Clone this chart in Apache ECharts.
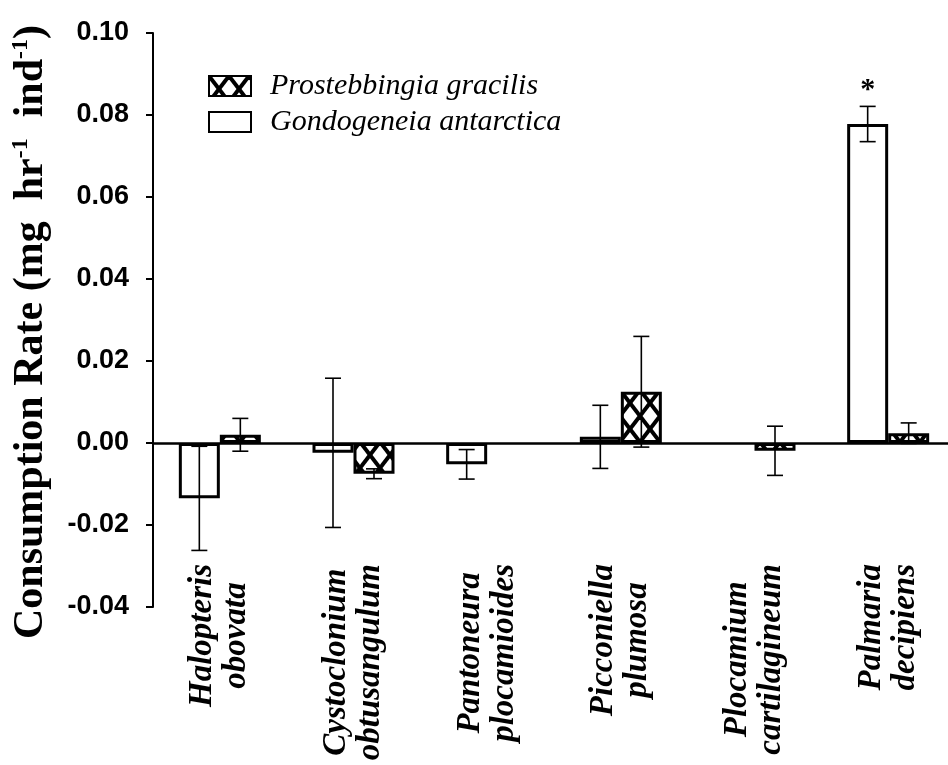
<!DOCTYPE html>
<html><head><meta charset="utf-8">
<script src="https://cdn.jsdelivr.net/npm/echarts@6/dist/echarts.min.js"></script>
<style>html,body{margin:0;padding:0;background:#fff}#chart{width:948px;height:765px}</style>
</head><body><div id="chart"></div>
<script>
// ---- data ----
const categories = ['Halopteris obovata', 'Cystoclonium obtusangulum', 'Pantoneura plocamioides', 'Picconiella plumosa', 'Plocamium cartilagineum', 'Palmaria decipiens'];
const seriesNames = ['Gondogeneia antarctica', 'Prostebbingia gracilis'];
const legendOrder = ['Prostebbingia gracilis', 'Gondogeneia antarctica'];
const gondoValues = [-0.0135, -0.0024, -0.0052, 0.0015, null, 0.0778];
const gondoErrors = [0.0127, 0.0182, 0.0036, 0.0077, null, 0.0043];
const gondoNotes = ['', '', '', '', '', '*'];
const prosValues = [0.0020, -0.0075, null, 0.0125, -0.0019, 0.0024];
const prosErrors = [0.0040, 0.0012, null, 0.0135, 0.0060, 0.0025];
const prosNotes = ['', '', '', '', '', ''];
const yTicks = ['-0.04', '-0.02', '0.00', '0.02', '0.04', '0.06', '0.08', '0.10'];

const SERIF = "'Liberation Serif','Times New Roman',Times,serif";
const SANS = "'Liberation Sans',Arial,Helvetica,sans-serif";

// hatch pattern
const PW = 20, PH = 26;
const pc = document.createElement('canvas'); pc.width = PW; pc.height = PH;
const g = pc.getContext('2d');
g.fillStyle = '#fff'; g.fillRect(0, 0, PW, PH);
g.strokeStyle = '#000'; g.lineWidth = 4;
for (const dx of [-PW, 0, PW]) {
  g.beginPath(); g.moveTo(dx, 0); g.lineTo(dx + PW, PH); g.stroke();
  g.beginPath(); g.moveTo(dx + PW, 0); g.lineTo(dx, PH); g.stroke();
}
const hatch = { image: pc, repeat: 'repeat' };

const BAR_W = 41;
function errData(vals, errs) {
  const out = [];
  vals.forEach((v, i) => { if (v !== null && errs[i] !== null) out.push([i, v, errs[i]]); });
  return out;
}
function errRender(offset, notes) {
  return function (params, api) {
    const i = api.value(0), v = api.value(1), e = api.value(2);
    const c = api.coord([i, v]);
    const x = c[0] + offset;
    const t = api.coord([i, v + e])[1];
    const b = api.coord([i, v - e])[1];
    const st = { stroke: '#000', lineWidth: 1.6 };
    const children = [
      { type: 'line', shape: { x1: x, y1: t, x2: x, y2: b }, style: st },
      { type: 'line', shape: { x1: x - 8, y1: t, x2: x + 8, y2: t }, style: st },
      { type: 'line', shape: { x1: x - 8, y1: b, x2: x + 8, y2: b }, style: st }
    ];
    const note = notes[i];
    if (note) {
      children.push({ type: 'text', style: { text: note, x: x, y: t - 16, align: 'center', verticalAlign: 'middle', fontSize: 30, fontWeight: 'bold', fontFamily: SERIF, fill: '#000' } });
    }
    return { type: 'group', children };
  };
}

const chart = echarts.init(document.getElementById('chart'), null, { renderer: 'canvas' });
chart.setOption({
  animation: false,
  backgroundColor: '#fff',
  grid: { left: 153, right: -7, top: 33, bottom: 158, containLabel: false, outerBoundsMode: 'none' },
  legend: {
    data: legendOrder,
    orient: 'vertical', left: 203, top: 66,
    itemWidth: 42, itemHeight: 20, itemGap: 6,
    icon: 'rect',
    textStyle: { fontSize: 30, fontStyle: 'italic', fontFamily: SERIF, color: '#000', padding: [0, 0, 0, 14] }
  },
  xAxis: {
    type: 'category', data: categories,
    axisLine: { onZero: true, lineStyle: { color: '#000', width: 2.5 } },
    axisTick: { show: false },
    axisLabel: {
      interval: 0, rotate: 90, margin: -43,
      formatter: (s) => s.split(' ').map(w => '{c|' + w + '}').join('\n'),
      rich: { c: { align: 'center', fontSize: 33, lineHeight: 34, fontWeight: 'bold', fontStyle: 'italic', fontFamily: SERIF, color: '#000' } }
    }
  },
  yAxis: {
    type: 'value', min: -0.04, max: 0.10, interval: 0.02,
    splitLine: { show: false },
    axisLine: { show: true, lineStyle: { color: '#000', width: 2 } },
    axisTick: { show: true, inside: false, length: 7, lineStyle: { color: '#000', width: 2 } },
    axisLabel: {
      margin: 24, fontSize: 27, fontWeight: 'bold', fontFamily: SANS, color: '#000',
      formatter: (v) => { const k = Math.round((v + 0.04) / 0.02); return yTicks[k] !== undefined ? yTicks[k] : v.toFixed(2); }
    },
    name: '{t|Consumption Rate (mg  hr}{s|-1}{t|  ind}{s|-1}{t|)}',
    nameLocation: 'middle', nameRotate: 90, nameGap: 100,
    nameTextStyle: {
      padding: [0, 24, 0, 0],
      rich: {
        t: { fontSize: 42, fontWeight: 'bold', fontFamily: SERIF, color: '#000', lineHeight: 44 },
        s: { fontSize: 24, fontWeight: 'bold', fontFamily: SERIF, color: '#000', verticalAlign: 'top', lineHeight: 44 }
      }
    }
  },
  series: [
    {
      name: seriesNames[0], type: 'bar', data: gondoValues, barWidth: BAR_W, barGap: '0%',
      itemStyle: { color: '#fff', borderColor: '#000', borderWidth: 3 }, z: 2
    },
    {
      name: seriesNames[1], type: 'bar', data: prosValues, barWidth: BAR_W, barGap: '0%',
      itemStyle: { color: hatch, borderColor: '#000', borderWidth: 3 }, z: 2
    },
    { type: 'custom', data: errData(gondoValues, gondoErrors), renderItem: errRender(-BAR_W / 2, gondoNotes), z: 5, silent: true },
    { type: 'custom', data: errData(prosValues, prosErrors), renderItem: errRender(BAR_W / 2, prosNotes), z: 5, silent: true }
  ]
});
</script>
</body></html>
